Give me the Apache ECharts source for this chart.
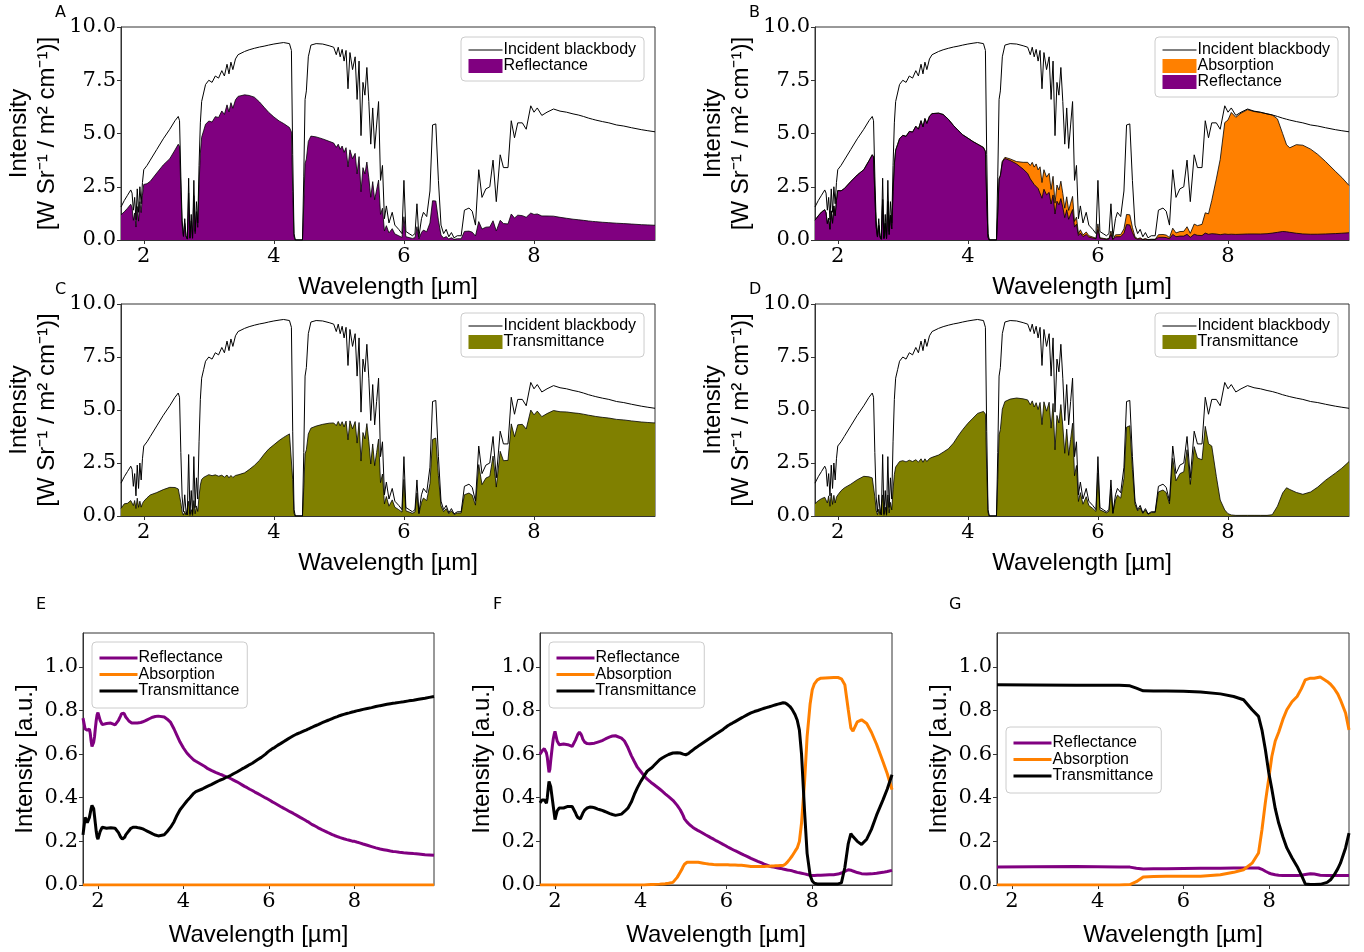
<!DOCTYPE html>
<html>
<head>
<meta charset="utf-8">
<script src="https://cdn.jsdelivr.net/npm/echarts@6/dist/echarts.min.js"></script>
<style>
  html, body { margin: 0; padding: 0; background: #fff; }
  #chart { width: 1364px; height: 952px; }
</style>
</head>
<body>
<div id="chart"></div>
<script>
// Wavelength grid (µm) shared by the incident blackbody and the E/F response curves
const wavelength = [
  1.65,1.70,1.75,1.80,1.82,1.84,1.86,1.88,1.90,1.92,
  1.94,1.96,1.98,2.00,2.05,2.10,2.20,2.30,2.40,2.48,
  2.50,2.53,2.55,2.57,2.59,2.61,2.63,2.65,2.67,2.69,
  2.71,2.73,2.75,2.77,2.79,2.81,2.83,2.85,2.87,2.89,
  2.92,2.95,3.00,3.05,3.10,3.15,3.20,3.24,3.28,3.31,
  3.34,3.37,3.41,3.45,3.55,3.62,3.70,3.78,3.85,3.92,
  4.00,4.08,4.15,4.24,4.27,4.29,4.31,4.33,4.44,4.46,
  4.48,4.50,4.53,4.57,4.65,4.75,4.85,4.92,4.96,4.99,
  5.02,5.05,5.08,5.11,5.14,5.17,5.21,5.25,5.28,5.31,
  5.34,5.37,5.40,5.43,5.46,5.49,5.52,5.55,5.58,5.61,
  5.64,5.67,5.70,5.73,5.77,5.82,5.86,5.92,5.97,6.00,
  6.03,6.08,6.13,6.17,6.20,6.23,6.27,6.30,6.35,6.40,
  6.44,6.49,6.53,6.57,6.61,6.65,6.69,6.73,6.77,6.82,
  6.88,6.93,7.00,7.05,7.10,7.15,7.20,7.26,7.32,7.37,
  7.42,7.48,7.53,7.60,7.65,7.70,7.75,7.82,7.88,7.95,
  8.00,8.05,8.12,8.20,8.30,8.40,8.50,8.60,8.68,8.76,
  8.84,8.90,8.95,9.05,9.15,9.27,9.38,9.50,9.65,9.75,
  9.86
];

// Incident blackbody intensity [W Sr^-1 / (m^2 cm^-1)]
const blackbody = [
  1.55,1.85,2.1,2.35,2.2,1.4,2.0,0.95,2.4,1.3,
  2.5,1.7,2.7,3.3,3.5,3.75,4.25,4.75,5.2,5.6,
  5.55,5.8,5.6,3.0,0.9,0.2,1.0,0.2,0.05,2.9,
  0.1,1.2,0.1,2.8,0.4,1.8,0.8,3.5,5.5,6.5,
  6.9,7.3,7.5,7.4,7.7,7.6,7.95,7.7,8.25,7.8,
  8.35,8.0,8.5,8.7,8.85,8.93,9.0,9.06,9.1,9.15,
  9.2,9.24,9.27,9.22,8.9,4.0,0.3,0.0,0.0,3.0,
  6.6,7.0,8.6,9.15,9.22,9.2,9.12,9.05,8.7,9.05,
  8.6,8.95,8.4,8.9,7.1,8.8,8.0,8.6,6.6,8.4,
  4.9,7.4,6.8,8.1,6.5,4.5,6.2,4.3,5.4,6.5,
  2.8,3.5,1.0,1.6,0.8,1.3,0.7,0.5,0.3,2.8,
  0.4,0.3,0.2,0.3,1.7,0.15,1.0,1.3,1.1,2.3,
  5.4,5.45,2.8,0.7,0.3,0.5,0.15,0.35,0.1,0.2,
  0.2,1.4,1.5,1.35,0.7,3.3,2.0,2.4,2.5,3.75,
  1.8,4.0,3.4,3.4,5.6,4.8,5.5,5.5,5.2,6.3,
  6.0,6.2,5.85,6.0,6.15,6.05,6.0,5.92,5.87,5.8,
  5.72,5.67,5.63,5.56,5.5,5.4,5.35,5.27,5.18,5.13,
  5.08
];

// Panel E response (reflectance / transmittance), same grid
const reflE = [
  0.765,0.715,0.71,0.715,0.695,0.66,0.635,0.64,0.655,0.68,
  0.72,0.755,0.78,0.79,0.755,0.735,0.74,0.742,0.734,0.755,
  0.76,0.775,0.785,0.79,0.79,0.787,0.78,0.77,0.765,0.76,
  0.755,0.75,0.746,0.743,0.742,0.742,0.742,0.742,0.742,0.742,
  0.743,0.744,0.745,0.748,0.752,0.757,0.762,0.766,0.769,0.771,
  0.772,0.773,0.774,0.775,0.77,0.76,0.745,0.715,0.685,0.655,
  0.628,0.605,0.59,0.573,0.57,0.567,0.565,0.563,0.55,0.548,
  0.545,0.543,0.538,0.533,0.525,0.516,0.508,0.503,0.50,0.497,
  0.495,0.493,0.49,0.487,0.484,0.481,0.477,0.473,0.47,0.466,
  0.462,0.459,0.456,0.452,0.449,0.446,0.442,0.439,0.436,0.433,
  0.429,0.426,0.423,0.42,0.416,0.41,0.405,0.399,0.394,0.39,
  0.387,0.381,0.376,0.371,0.368,0.365,0.36,0.357,0.351,0.346,
  0.341,0.336,0.332,0.328,0.323,0.319,0.314,0.31,0.305,0.30,
  0.293,0.288,0.278,0.273,0.268,0.262,0.257,0.251,0.246,0.241,
  0.237,0.231,0.227,0.222,0.218,0.215,0.212,0.208,0.205,0.201,
  0.20,0.197,0.193,0.188,0.182,0.176,0.17,0.165,0.162,0.159,
  0.156,0.154,0.153,0.15,0.148,0.146,0.144,0.142,0.139,0.138,
  0.136
];
const transE = [
  0.23,0.31,0.285,0.31,0.33,0.35,0.365,0.37,0.35,0.315,
  0.28,0.245,0.22,0.21,0.245,0.265,0.26,0.262,0.26,0.24,
  0.235,0.22,0.215,0.21,0.21,0.213,0.22,0.23,0.235,0.24,
  0.245,0.25,0.255,0.26,0.262,0.264,0.265,0.266,0.266,0.265,
  0.264,0.262,0.26,0.257,0.252,0.247,0.242,0.238,0.234,0.231,
  0.229,0.227,0.225,0.223,0.23,0.245,0.265,0.29,0.32,0.345,
  0.365,0.385,0.40,0.42,0.425,0.428,0.43,0.432,0.44,0.442,
  0.444,0.446,0.45,0.453,0.46,0.47,0.48,0.485,0.49,0.493,
  0.495,0.497,0.50,0.503,0.506,0.51,0.514,0.518,0.521,0.525,
  0.529,0.532,0.535,0.538,0.542,0.545,0.548,0.552,0.555,0.558,
  0.562,0.566,0.57,0.574,0.579,0.585,0.59,0.60,0.609,0.615,
  0.618,0.625,0.63,0.636,0.64,0.643,0.648,0.652,0.658,0.664,
  0.669,0.675,0.679,0.684,0.688,0.692,0.695,0.698,0.702,0.706,
  0.711,0.716,0.722,0.727,0.731,0.735,0.74,0.745,0.75,0.754,
  0.758,0.763,0.767,0.772,0.776,0.779,0.782,0.786,0.789,0.793,
  0.795,0.798,0.801,0.805,0.809,0.813,0.818,0.822,0.825,0.828,
  0.831,0.833,0.834,0.837,0.84,0.844,0.847,0.851,0.856,0.86,
  0.864
];
const absEWavelength = [1.65, 9.86];
const absE = [0, 0];

// Panel F response, same grid
const reflF = [
  0.60,0.615,0.625,0.605,0.585,0.55,0.516,0.53,0.57,0.605,
  0.64,0.67,0.69,0.704,0.66,0.643,0.646,0.643,0.635,0.665,
  0.675,0.69,0.697,0.70,0.698,0.69,0.68,0.668,0.66,0.655,
  0.652,0.65,0.648,0.647,0.647,0.647,0.648,0.648,0.649,0.649,
  0.65,0.652,0.655,0.658,0.662,0.667,0.672,0.676,0.679,0.681,
  0.683,0.684,0.684,0.682,0.673,0.66,0.63,0.593,0.566,0.54,
  0.52,0.50,0.485,0.47,0.466,0.463,0.46,0.457,0.44,0.436,
  0.433,0.43,0.425,0.418,0.405,0.388,0.365,0.345,0.33,0.318,
  0.303,0.295,0.288,0.282,0.276,0.271,0.265,0.26,0.256,0.252,
  0.249,0.246,0.243,0.24,0.236,0.233,0.229,0.226,0.223,0.22,
  0.216,0.213,0.21,0.206,0.202,0.197,0.192,0.186,0.181,0.177,
  0.174,0.169,0.164,0.16,0.157,0.155,0.151,0.148,0.143,0.138,
  0.134,0.13,0.126,0.122,0.119,0.115,0.112,0.108,0.105,0.101,
  0.096,0.092,0.086,0.084,0.082,0.08,0.078,0.076,0.073,0.071,
  0.069,0.067,0.065,0.061,0.058,0.056,0.054,0.051,0.048,0.045,
  0.044,0.044,0.045,0.045,0.046,0.047,0.047,0.05,0.055,0.062,
  0.07,0.068,0.064,0.057,0.052,0.05,0.051,0.054,0.058,0.062,
  0.067
];
const absF = [
  0,0,0,0,0,0,0,0,0,0,
  0,0,0,0,0,0,0,0,0,0,
  0,0,0,0,0,0,0,0,0,0,
  0,0,0,0,0,0,0,0,0,0,
  0,0,0,0,0,0,0,0,0,0,
  0,0,0,0,0,0,0,0,0,0,
  0,0,0.001,0.002,0.002,0.002,0.002,0.003,0.004,0.004,
  0.005,0.005,0.005,0.006,0.008,0.012,0.035,0.058,0.072,0.085,
  0.095,0.104,0.104,0.104,0.104,0.104,0.104,0.104,0.104,0.104,
  0.104,0.103,0.102,0.101,0.10,0.099,0.098,0.097,0.096,0.095,
  0.095,0.094,0.094,0.093,0.093,0.093,0.093,0.093,0.093,0.093,
  0.093,0.092,0.092,0.092,0.092,0.092,0.091,0.091,0.09,0.089,
  0.088,0.087,0.086,0.085,0.085,0.085,0.085,0.085,0.085,0.085,
  0.085,0.086,0.086,0.087,0.087,0.088,0.088,0.089,0.089,0.095,
  0.105,0.12,0.133,0.155,0.17,0.20,0.284,0.47,0.68,0.83,
  0.895,0.922,0.94,0.948,0.949,0.95,0.951,0.951,0.945,0.918,
  0.803,0.72,0.705,0.748,0.757,0.74,0.70,0.645,0.565,0.51,
  0.437
];
const transF = [
  0.376,0.39,0.39,0.375,0.40,0.44,0.475,0.48,0.45,0.42,
  0.39,0.36,0.33,0.30,0.34,0.353,0.353,0.36,0.36,0.33,
  0.32,0.31,0.305,0.302,0.303,0.31,0.32,0.33,0.337,0.343,
  0.347,0.35,0.353,0.355,0.356,0.357,0.357,0.356,0.356,0.355,
  0.354,0.352,0.348,0.345,0.342,0.338,0.334,0.33,0.327,0.325,
  0.323,0.321,0.319,0.318,0.325,0.337,0.352,0.38,0.415,0.445,
  0.475,0.50,0.522,0.535,0.54,0.544,0.547,0.55,0.574,0.577,
  0.58,0.582,0.586,0.59,0.598,0.605,0.606,0.605,0.603,0.60,
  0.598,0.597,0.598,0.602,0.607,0.612,0.618,0.624,0.628,0.632,
  0.637,0.641,0.645,0.649,0.653,0.657,0.661,0.665,0.669,0.673,
  0.677,0.681,0.685,0.689,0.694,0.70,0.705,0.713,0.721,0.727,
  0.73,0.736,0.741,0.746,0.749,0.752,0.757,0.76,0.766,0.771,
  0.776,0.781,0.786,0.789,0.792,0.795,0.797,0.80,0.803,0.806,
  0.81,0.813,0.817,0.82,0.823,0.826,0.829,0.832,0.835,0.834,
  0.828,0.818,0.805,0.78,0.755,0.71,0.60,0.34,0.145,0.045,
  0.018,0.008,0.005,0.005,0.005,0.005,0.005,0.005,0.01,0.08,
  0.19,0.235,0.222,0.20,0.186,0.21,0.255,0.32,0.39,0.44,
  0.505
];

// Panel G response on its own grid
const gWavelength = [1.65,2.5,3.5,4.5,4.75,4.9,5.06,5.3,5.6,6.0,6.4,6.86,7.17,7.4,7.6,7.75,7.83,7.91,7.99,8.06,8.14,8.22,8.32,8.41,8.53,8.65,8.75,8.84,8.96,9.05,9.19,9.35,9.43,9.51,9.6,9.66,9.78,9.86];
const reflG  = [0.082,0.084,0.085,0.083,0.082,0.077,0.073,0.074,0.075,0.076,0.077,0.077,0.078,0.078,0.078,0.078,0.072,0.063,0.055,0.05,0.047,0.045,0.044,0.044,0.044,0.044,0.045,0.048,0.052,0.05,0.045,0.044,0.044,0.044,0.044,0.044,0.044,0.044];
const absG   = [0,0,0,0,0.002,0.015,0.037,0.039,0.04,0.04,0.04,0.047,0.058,0.07,0.1,0.147,0.253,0.38,0.49,0.589,0.66,0.7,0.76,0.803,0.84,0.864,0.9,0.94,0.948,0.948,0.953,0.933,0.92,0.902,0.875,0.849,0.788,0.711];
const transG = [0.918,0.917,0.916,0.915,0.913,0.902,0.89,0.889,0.889,0.888,0.885,0.876,0.864,0.849,0.803,0.773,0.71,0.62,0.513,0.44,0.35,0.284,0.22,0.17,0.125,0.085,0.045,0.005,0.002,0.002,0.003,0.012,0.024,0.045,0.075,0.1,0.17,0.238];

// Axis ticks
const xTicks = [2, 4, 6, 8];
const yTicksTop = [0, 2.5, 5, 7.5, 10];
const yTicksBottom = [0, 0.2, 0.4, 0.6, 0.8, 1.0];

const PURPLE = '#800080';
const ORANGE = '#ff8000';
const OLIVE = '#808000';
const SPINE = '#333333';
const SERIF = '"DejaVu Serif", serif';
const SANS = '"Liberation Sans", Arial, sans-serif';

const pairs = (xs, ys) => xs.map((x, i) => [x, ys[i]]);
// spectral intensity = incident blackbody x fractional response
const weighted = (frac) => wavelength.map((x, i) => [x, blackbody[i] * frac[i]]);
const weightedSum = (f1, f2) => wavelength.map((x, i) => [x, blackbody[i] * (f1[i] + f2[i])]);

// Panel boxes [left, top, width, height]
const boxes = [
  [121, 27, 534, 213],   // A
  [815, 27, 534, 213],   // B
  [121, 304, 534, 212],  // C
  [815, 304, 534, 212],  // D
  [83, 633, 351, 252],   // E
  [540, 633, 352, 252],  // F
  [997, 633, 352, 252]   // G
];

const grids = boxes.map(b => ({
  left: b[0], top: b[1], width: b[2], height: b[3],
  show: true, borderColor: SPINE, borderWidth: 1, backgroundColor: 'transparent'
}));

function xAxis(i, top) {
  return {
    type: 'value', gridIndex: i, min: 1.65, max: 9.86,
    name: 'Wavelength [µm]', nameLocation: 'middle', nameGap: top ? 35 : 38,
    nameTextStyle: { fontFamily: SANS, fontSize: 24, color: '#000' },
    axisLine: { show: true, onZero: false, lineStyle: { color: SPINE, width: 1 } },
    axisTick: { show: true, inside: false, length: 4, customValues: xTicks, lineStyle: { color: SPINE } },
    axisLabel: { customValues: xTicks, fontFamily: SERIF, fontSize: 21, color: '#000', margin: 6 },
    splitLine: { show: false }
  };
}
function yAxis(i, top) {
  const ticks = top ? yTicksTop : yTicksBottom;
  return {
    type: 'value', gridIndex: i, min: 0, max: top ? 10 : 1.155,
    name: top ? 'Intensity\n[W Sr⁻¹ / m² cm⁻¹)]' : 'Intensity [a.u.]',
    nameLocation: 'middle', nameGap: top ? 60 : 44,
    nameTextStyle: { fontFamily: SANS, fontSize: 24, lineHeight: 28, color: '#000' },
    axisLine: { show: true, onZero: false, lineStyle: { color: SPINE, width: 1 } },
    axisTick: { show: true, inside: false, length: 4, customValues: ticks, lineStyle: { color: SPINE } },
    axisLabel: { customValues: ticks, fontFamily: SERIF, fontSize: 21, color: '#000', margin: 5,
                 formatter: v => v.toFixed(1) },
    splitLine: { show: false }
  };
}

const xAxes = boxes.map((b, i) => xAxis(i, i < 4));
const yAxes = boxes.map((b, i) => yAxis(i, i < 4));

function fill(name, i, data, color) {
  return {
    name, type: 'line', xAxisIndex: i, yAxisIndex: i, data,
    symbol: 'none', silent: true, z: 2,
    itemStyle: { color },
    lineStyle: { color: '#000', width: 0.8 },
    areaStyle: { color, opacity: 1, origin: 'start' }
  };
}
function line(name, i, data, color, width) {
  return {
    name, type: 'line', xAxisIndex: i, yAxisIndex: i, data,
    symbol: 'none', silent: true, z: 3,
    itemStyle: { color },
    lineStyle: { color, width }
  };
}

const bbData = pairs(wavelength, blackbody);

const series = [
  // A
  fill('A:Reflectance', 0, weighted(reflE), PURPLE),
  line('A:Incident blackbody', 0, bbData, '#000', 1),
  // B
  fill('B:Absorption', 1, weightedSum(reflF, absF), ORANGE),
  fill('B:Reflectance', 1, weighted(reflF), PURPLE),
  line('B:Incident blackbody', 1, bbData, '#000', 1),
  // C
  fill('C:Transmittance', 2, weighted(transE), OLIVE),
  line('C:Incident blackbody', 2, bbData, '#000', 1),
  // D
  fill('D:Transmittance', 3, weighted(transF), OLIVE),
  line('D:Incident blackbody', 3, bbData, '#000', 1),
  // E
  line('E:Reflectance', 4, pairs(wavelength, reflE), PURPLE, 3),
  line('E:Absorption', 4, pairs(absEWavelength, absE), ORANGE, 3),
  line('E:Transmittance', 4, pairs(wavelength, transE), '#000', 3),
  // F
  line('F:Reflectance', 5, pairs(wavelength, reflF), PURPLE, 3),
  line('F:Absorption', 5, pairs(wavelength, absF), ORANGE, 3),
  line('F:Transmittance', 5, pairs(wavelength, transF), '#000', 3),
  // G
  line('G:Reflectance', 6, pairs(gWavelength, reflG), PURPLE, 3),
  line('G:Absorption', 6, pairs(gWavelength, absG), ORANGE, 3),
  line('G:Transmittance', 6, pairs(gWavelength, transG), '#000', 3)
];

function legend(left, top, items, bottomPanel) {
  return {
    orient: 'vertical', left, top,
    data: items.map(it => it.fill
      ? { name: it.name, icon: 'rect', itemStyle: { color: it.fill, borderWidth: 0 } }
      : { name: it.name, itemStyle: { opacity: 0 },
          lineStyle: { width: bottomPanel ? 3 : 1 } }),
    formatter: n => n.slice(2),
    selectedMode: false,
    itemWidth: bottomPanel ? 38 : 34,
    itemHeight: 14,
    itemGap: bottomPanel ? 0.5 : 0,
    padding: bottomPanel ? [8, 8, 9, 6] : [5, 8, 7, 7],
    backgroundColor: 'rgba(255,255,255,0.8)',
    borderColor: '#cccccc', borderWidth: 1, borderRadius: 4,
    textStyle: { fontFamily: SANS, fontSize: 16, lineHeight: 16, color: '#000', padding: [0, 0, 0, -4] }
  };
}

const legends = [
  legend(461, 37, [{ name: 'A:Incident blackbody' }, { name: 'A:Reflectance', fill: PURPLE }]),
  legend(1155, 37, [{ name: 'B:Incident blackbody' }, { name: 'B:Absorption', fill: ORANGE }, { name: 'B:Reflectance', fill: PURPLE }]),
  legend(461, 313, [{ name: 'C:Incident blackbody' }, { name: 'C:Transmittance', fill: OLIVE }]),
  legend(1155, 313, [{ name: 'D:Incident blackbody' }, { name: 'D:Transmittance', fill: OLIVE }]),
  legend(92, 642, [{ name: 'E:Reflectance' }, { name: 'E:Absorption' }, { name: 'E:Transmittance' }], true),
  legend(549, 642, [{ name: 'F:Reflectance' }, { name: 'F:Absorption' }, { name: 'F:Transmittance' }], true),
  legend(1006, 727, [{ name: 'G:Reflectance' }, { name: 'G:Absorption' }, { name: 'G:Transmittance' }], true)
];

// Panel letters
const panelLetters = [
  ['A', 55, 5], ['B', 749, 5], ['C', 55, 282], ['D', 749, 282],
  ['E', 36, 597], ['F', 493, 597], ['G', 949, 597]
];
const graphic = panelLetters.map(([t, x, y]) => ({
  type: 'text', left: x, top: y, silent: true,
  style: { text: t, font: '16px "DejaVu Sans", sans-serif', fill: '#000' }
}));

const chart = echarts.init(document.getElementById('chart'), null, { renderer: 'canvas' });
chart.setOption({
  animation: false,
  backgroundColor: '#ffffff',
  grid: grids,
  xAxis: xAxes,
  yAxis: yAxes,
  legend: legends,
  series,
  graphic
});
</script>
</body>
</html>
